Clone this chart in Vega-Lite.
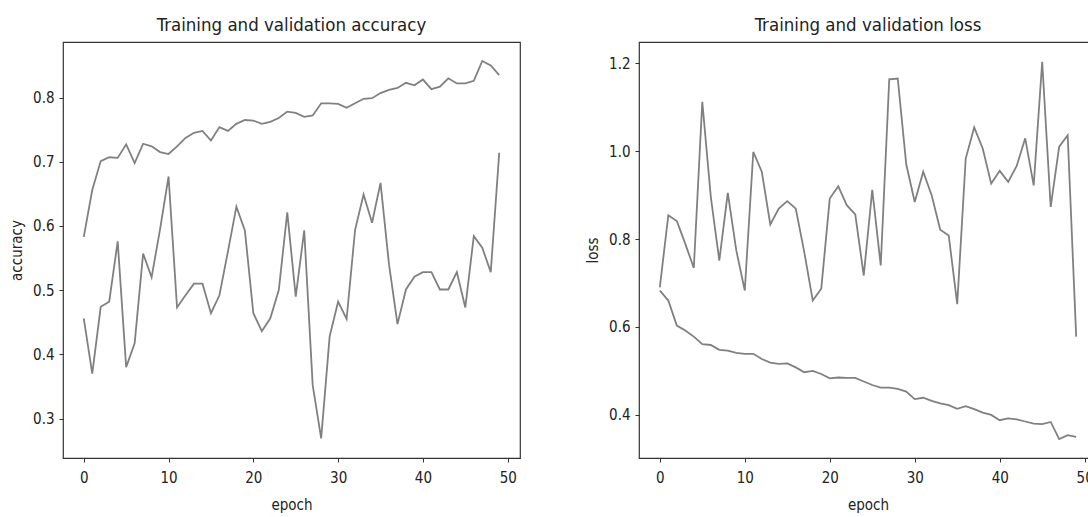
{
  "$schema": "https://vega.github.io/schema/vega-lite/v6.json",
  "padding": {"left": 8, "top": 14, "right": 0, "bottom": 0},
  "background": "white",
  "config": {
    "font": "DejaVu Sans Condensed",
    "view": {"stroke": "#333333", "strokeWidth": 1.2},
    "axis": {
      "grid": false,
      "domain": false,
      "tickColor": "#333333",
      "tickSize": 4,
      "labelFontSize": 15,
      "labelColor": "#222222",
      "labelPadding": 5,
      "titleFontSize": 15,
      "titleFontWeight": "normal",
      "titleColor": "#222222"
    },
    "title": {"fontSize": 18.5, "fontWeight": "normal", "color": "#222222", "offset": 8}
  },
  "data": {
    "values": [
      {"epoch": 0, "acc": 0.583, "val_acc": 0.456, "loss": 0.683, "val_loss": 0.690},
      {"epoch": 1, "acc": 0.656, "val_acc": 0.370, "loss": 0.660, "val_loss": 0.854},
      {"epoch": 2, "acc": 0.701, "val_acc": 0.474, "loss": 0.603, "val_loss": 0.841},
      {"epoch": 3, "acc": 0.707, "val_acc": 0.482, "loss": 0.592, "val_loss": 0.789},
      {"epoch": 4, "acc": 0.706, "val_acc": 0.576, "loss": 0.578, "val_loss": 0.734},
      {"epoch": 5, "acc": 0.727, "val_acc": 0.380, "loss": 0.561, "val_loss": 1.112},
      {"epoch": 6, "acc": 0.698, "val_acc": 0.417, "loss": 0.559, "val_loss": 0.896},
      {"epoch": 7, "acc": 0.728, "val_acc": 0.557, "loss": 0.548, "val_loss": 0.751},
      {"epoch": 8, "acc": 0.724, "val_acc": 0.520, "loss": 0.546, "val_loss": 0.905},
      {"epoch": 9, "acc": 0.715, "val_acc": 0.595, "loss": 0.541, "val_loss": 0.774},
      {"epoch": 10, "acc": 0.712, "val_acc": 0.677, "loss": 0.539, "val_loss": 0.683},
      {"epoch": 11, "acc": 0.724, "val_acc": 0.473, "loss": 0.539, "val_loss": 0.998},
      {"epoch": 12, "acc": 0.737, "val_acc": 0.492, "loss": 0.527, "val_loss": 0.953},
      {"epoch": 13, "acc": 0.745, "val_acc": 0.510, "loss": 0.519, "val_loss": 0.833},
      {"epoch": 14, "acc": 0.748, "val_acc": 0.510, "loss": 0.516, "val_loss": 0.869},
      {"epoch": 15, "acc": 0.733, "val_acc": 0.464, "loss": 0.517, "val_loss": 0.886},
      {"epoch": 16, "acc": 0.754, "val_acc": 0.492, "loss": 0.508, "val_loss": 0.869},
      {"epoch": 17, "acc": 0.748, "val_acc": 0.560, "loss": 0.497, "val_loss": 0.770},
      {"epoch": 18, "acc": 0.759, "val_acc": 0.630, "loss": 0.500, "val_loss": 0.660},
      {"epoch": 19, "acc": 0.765, "val_acc": 0.593, "loss": 0.493, "val_loss": 0.687},
      {"epoch": 20, "acc": 0.764, "val_acc": 0.464, "loss": 0.483, "val_loss": 0.892},
      {"epoch": 21, "acc": 0.759, "val_acc": 0.436, "loss": 0.485, "val_loss": 0.920},
      {"epoch": 22, "acc": 0.762, "val_acc": 0.456, "loss": 0.484, "val_loss": 0.877},
      {"epoch": 23, "acc": 0.768, "val_acc": 0.500, "loss": 0.484, "val_loss": 0.856},
      {"epoch": 24, "acc": 0.778, "val_acc": 0.621, "loss": 0.476, "val_loss": 0.717},
      {"epoch": 25, "acc": 0.776, "val_acc": 0.490, "loss": 0.468, "val_loss": 0.912},
      {"epoch": 26, "acc": 0.770, "val_acc": 0.593, "loss": 0.462, "val_loss": 0.740},
      {"epoch": 27, "acc": 0.772, "val_acc": 0.352, "loss": 0.462, "val_loss": 1.163},
      {"epoch": 28, "acc": 0.791, "val_acc": 0.269, "loss": 0.459, "val_loss": 1.165},
      {"epoch": 29, "acc": 0.791, "val_acc": 0.428, "loss": 0.453, "val_loss": 0.970},
      {"epoch": 30, "acc": 0.790, "val_acc": 0.482, "loss": 0.436, "val_loss": 0.884},
      {"epoch": 31, "acc": 0.784, "val_acc": 0.455, "loss": 0.439, "val_loss": 0.953},
      {"epoch": 32, "acc": 0.791, "val_acc": 0.594, "loss": 0.432, "val_loss": 0.899},
      {"epoch": 33, "acc": 0.798, "val_acc": 0.649, "loss": 0.426, "val_loss": 0.821},
      {"epoch": 34, "acc": 0.799, "val_acc": 0.605, "loss": 0.422, "val_loss": 0.808},
      {"epoch": 35, "acc": 0.807, "val_acc": 0.667, "loss": 0.414, "val_loss": 0.652},
      {"epoch": 36, "acc": 0.812, "val_acc": 0.540, "loss": 0.420, "val_loss": 0.983},
      {"epoch": 37, "acc": 0.815, "val_acc": 0.447, "loss": 0.413, "val_loss": 1.054},
      {"epoch": 38, "acc": 0.823, "val_acc": 0.501, "loss": 0.405, "val_loss": 1.006},
      {"epoch": 39, "acc": 0.819, "val_acc": 0.521, "loss": 0.400, "val_loss": 0.926},
      {"epoch": 40, "acc": 0.828, "val_acc": 0.528, "loss": 0.388, "val_loss": 0.955},
      {"epoch": 41, "acc": 0.813, "val_acc": 0.528, "loss": 0.392, "val_loss": 0.930},
      {"epoch": 42, "acc": 0.817, "val_acc": 0.501, "loss": 0.390, "val_loss": 0.966},
      {"epoch": 43, "acc": 0.830, "val_acc": 0.501, "loss": 0.385, "val_loss": 1.029},
      {"epoch": 44, "acc": 0.822, "val_acc": 0.528, "loss": 0.380, "val_loss": 0.922},
      {"epoch": 45, "acc": 0.822, "val_acc": 0.473, "loss": 0.379, "val_loss": 1.203},
      {"epoch": 46, "acc": 0.826, "val_acc": 0.584, "loss": 0.384, "val_loss": 0.873},
      {"epoch": 47, "acc": 0.857, "val_acc": 0.566, "loss": 0.345, "val_loss": 1.010},
      {"epoch": 48, "acc": 0.850, "val_acc": 0.528, "loss": 0.354, "val_loss": 1.036},
      {"epoch": 49, "acc": 0.835, "val_acc": 0.714, "loss": 0.350, "val_loss": 0.578}
    ]
  },
  "spacing": 63,
  "hconcat": [
    {
      "width": 457,
      "height": 416,
      "title": "Training and validation accuracy",
      "transform": [{"fold": ["acc", "val_acc"], "as": ["series", "value"]}],
      "mark": {"type": "line", "color": "#808080", "strokeWidth": 1.8, "clip": true},
      "encoding": {
        "x": {
          "field": "epoch", "type": "quantitative",
          "scale": {"domain": [-2.45, 51.45], "nice": false, "zero": false},
          "axis": {"values": [0, 10, 20, 30, 40, 50], "title": "epoch", "labelPadding": 8, "titlePadding": 12, "labelFlush": false}
        },
        "y": {
          "field": "value", "type": "quantitative",
          "scale": {"domain": [0.2385, 0.8865], "nice": false, "zero": false},
          "axis": {"values": [0.3, 0.4, 0.5, 0.6, 0.7, 0.8], "format": ".1f", "title": "accuracy", "titlePadding": 8, "labelFlush": false}
        },
        "detail": {"field": "series"}
      }
    },
    {
      "width": 458,
      "height": 416,
      "title": "Training and validation loss",
      "transform": [{"fold": ["loss", "val_loss"], "as": ["series", "value"]}],
      "mark": {"type": "line", "color": "#808080", "strokeWidth": 1.8, "clip": true},
      "encoding": {
        "x": {
          "field": "epoch", "type": "quantitative",
          "scale": {"domain": [-2.45, 51.45], "nice": false, "zero": false},
          "axis": {"values": [0, 10, 20, 30, 40, 50], "title": "epoch", "labelPadding": 8, "titlePadding": 12, "labelFlush": false}
        },
        "y": {
          "field": "value", "type": "quantitative",
          "scale": {"domain": [0.302, 1.248], "nice": false, "zero": false},
          "axis": {"values": [0.4, 0.6, 0.8, 1.0, 1.2], "format": ".1f", "title": "loss", "titlePadding": 8, "labelFlush": false}
        },
        "detail": {"field": "series"}
      }
    }
  ]
}
